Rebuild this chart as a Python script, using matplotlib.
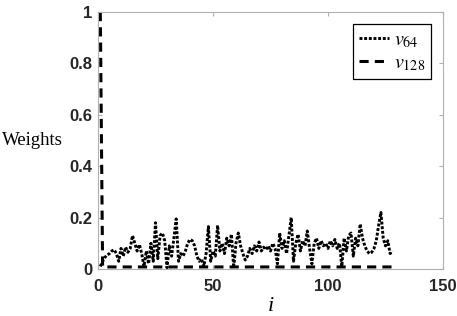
import matplotlib
matplotlib.use("Agg")
import matplotlib.pyplot as plt
import numpy as np

# data
idx = np.arange(1, 129)
v64 = [0.01, 0.03, 0.045, 0.055, 0.06, 0.07, 0.075, 0.06, 0.03, 0.08,
       0.05, 0.085, 0.065, 0.08, 0.13, 0.1, 0.07, 0.095, 0.06, 0.01,
       0.07, 0.02, 0.1, 0.03, 0.18, 0.04, 0.13, 0.14, 0.11, 0.005,
       0.09, 0.05, 0.12, 0.195, 0.03, 0.06, 0.05, 0.07, 0.1, 0.115,
       0.11, 0.09, 0.05, 0.03, 0.04, 0.01, 0.06, 0.165, 0.03, 0.07,
       0.05, 0.17, 0.07, 0.1, 0.06, 0.12, 0.09, 0.135, 0.005, 0.1,
       0.14, 0.09, 0.06, 0.035, 0.05, 0.08, 0.06, 0.09, 0.07, 0.105,
       0.07, 0.085, 0.075, 0.09, 0.07, 0.1, 0.08, 0.02, 0.14, 0.08,
       0.11, 0.06, 0.13, 0.2, 0.03, 0.1, 0.135, 0.07, 0.11, 0.09,
       0.148, 0.08, 0.02, 0.1, 0.12, 0.08, 0.11, 0.09, 0.1, 0.08,
       0.11, 0.09, 0.115, 0.08, 0.1, 0.01, 0.12, 0.07, 0.13, 0.14,
       0.05, 0.12, 0.09, 0.175, 0.12, 0.09, 0.07, 0.06, 0.065, 0.08,
       0.11, 0.17, 0.22, 0.12, 0.09, 0.11, 0.06, 0.07]
v128 = [1.0] + [0.008] * 127

xticks = [0, 50, 100, 150]
yticks = [0, 0.2, 0.4, 0.6, 0.8, 1]
ytick_labels = ["0", "0.2", "0.4", "0.6", "0.8", "1"]

plt.rcParams["mathtext.fontset"] = "stix"

fig = plt.figure(figsize=(4.57, 3.16), dpi=100)
ax = fig.add_axes([98 / 457, 1 - 269 / 316, 345 / 457, 257 / 316])

ax.plot(idx, v64, color="black", linestyle=(0, (1, 0.6)), linewidth=2.1,
        label=r"$v_{\mathit{64}}$")
ax.plot(idx, v128, color="black", linestyle=(0, (3, 2)), linewidth=2.2,
        label=r"$v_{\mathit{128}}$")

ax.set_xlim(0, 150)
ax.set_ylim(0, 1)
ax.set_xticks(xticks)
ax.set_yticks(yticks)
ax.set_yticklabels(ytick_labels)

grey = "#b0b0b0"
for s in ax.spines.values():
    s.set_color(grey)
    s.set_linewidth(0.8)
ax.tick_params(direction="in", top=True, right=True, color=grey, length=3,
               labelsize=12, labelcolor="#262626")
ax.tick_params(axis="x", pad=7)
ax.tick_params(axis="y", pad=4)
for lab in ax.get_xticklabels() + ax.get_yticklabels():
    lab.set_fontweight("bold")
    lab.set_fontfamily("Liberation Sans")

ax.set_xlabel("i", fontsize=16, family="Liberation Serif", style="italic")
ax.xaxis.set_label_coords(0.5, -0.11)
# the reference crops the left of this label; kept just inside the figure
fig.text(2 / 457, 1 - 141 / 316, "Weights", fontsize=13.5,
         family="Liberation Serif", ha="left", va="center")

leg = ax.legend(loc="upper right", fontsize=14.5, fancybox=False,
                edgecolor="black", framealpha=1, borderaxespad=0.6,
                handlelength=1.45, handletextpad=0.25, labelspacing=0.15,
                borderpad=0.3)
leg.get_frame().set_linewidth(0.9)

fig.savefig("out.png", dpi=100)
